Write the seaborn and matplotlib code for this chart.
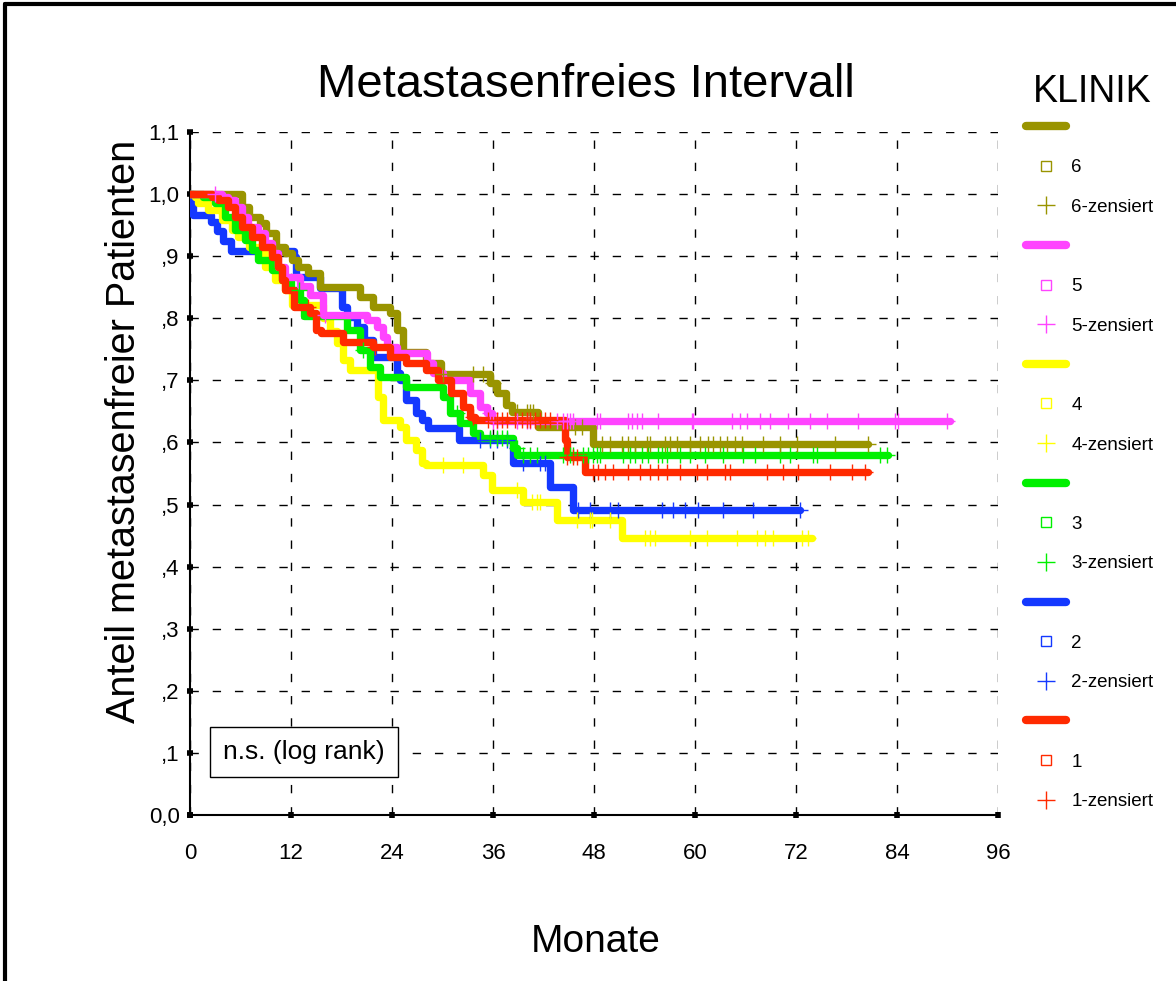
import numpy as np
import pandas as pd
import matplotlib
matplotlib.use("Agg")
import matplotlib.pyplot as plt
from matplotlib.lines import Line2D
import seaborn as sns

# --- Daten: Kaplan-Meier-Stufen je Klinik (Monate, Anteil) ---
t1 = [0, 2.6, 3.3, 4.5, 5.3, 6.2, 7.4, 8.6, 9.7, 10.5, 10.9, 11.3, 12.3, 14.3, 15.0, 15.6, 18.2,
      21.7, 23.8, 25.7, 28.0, 29.5, 31.0, 32.4, 33.3, 33.9, 44.5, 44.8, 46.9, 80.5]
s1 = [1.0, 0.995, 0.99, 0.979, 0.963, 0.947, 0.931, 0.915, 0.899, 0.882, 0.862, 0.845, 0.818, 0.808,
      0.781, 0.776, 0.762, 0.754, 0.738, 0.728, 0.717, 0.700, 0.680, 0.657, 0.641, 0.636, 0.604,
      0.576, 0.552, 0.552]

t2 = [0, 0.3, 2.5, 3.2, 3.9, 4.9, 12.3, 12.6, 15.5, 18.0, 18.7, 19.8, 20.7, 21.7, 24.6, 24.9,
      25.7, 26.9, 27.6, 28.3, 32.0, 38.4, 42.8, 45.5, 72.5]
s2 = [1.0, 0.966, 0.955, 0.940, 0.925, 0.908, 0.899, 0.866, 0.849, 0.818, 0.802, 0.786, 0.765,
      0.738, 0.712, 0.700, 0.668, 0.647, 0.636, 0.623, 0.604, 0.567, 0.528, 0.491, 0.491]

t3 = [0, 1.5, 3.0, 4.2, 5.3, 6.5, 7.4, 8.1, 9.7, 10.9, 12.0, 13.1, 13.5, 18.6, 20.2, 21.4, 22.6,
      25.7, 30.1, 30.9, 32.1, 33.6, 34.5, 38.4, 38.9, 82.9]
s3 = [1.0, 0.995, 0.985, 0.963, 0.942, 0.926, 0.910, 0.894, 0.878, 0.862, 0.845, 0.829, 0.803,
      0.781, 0.749, 0.721, 0.705, 0.689, 0.673, 0.647, 0.631, 0.615, 0.607, 0.591, 0.580, 0.580]

t4 = [0, 0.6, 1.0, 2.1, 3.8, 5.0, 5.7, 7.0, 8.9, 10.1, 11.3, 12.1, 15.8, 16.6, 17.5, 18.2, 19.0,
      22.3, 22.9, 24.9, 25.7, 26.9, 27.6, 28.0, 34.8, 35.9, 39.6, 43.6, 51.3, 73.9]
s4 = [1.0, 0.995, 0.985, 0.974, 0.958, 0.942, 0.931, 0.915, 0.882, 0.862, 0.845, 0.822, 0.800,
      0.780, 0.760, 0.733, 0.717, 0.673, 0.636, 0.625, 0.604, 0.588, 0.567, 0.564, 0.547, 0.523,
      0.504, 0.475, 0.446, 0.446]

t5 = [0, 3.8, 4.5, 5.3, 6.2, 6.9, 8.1, 8.9, 9.7, 10.5, 11.3, 13.1, 14.3, 15.8, 21.0, 22.2, 22.9,
      23.4, 24.6, 28.2, 28.9, 30.1, 33.3, 34.5, 35.3, 35.9, 90.3]
s5 = [1.0, 0.995, 0.99, 0.979, 0.963, 0.947, 0.937, 0.921, 0.905, 0.882, 0.866, 0.852, 0.838,
      0.805, 0.797, 0.786, 0.770, 0.754, 0.744, 0.728, 0.712, 0.700, 0.680, 0.657, 0.647, 0.634,
      0.634]

t6 = [0, 6.2, 7.0, 8.3, 9.0, 10.2, 11.3, 12.1, 12.8, 14.0, 15.5, 20.2, 21.7, 23.8, 24.6, 25.3,
      28.0, 29.8, 35.6, 36.5, 37.5, 38.2, 41.4, 47.9, 80.6]
s6 = [1.0, 0.979, 0.963, 0.953, 0.937, 0.915, 0.905, 0.894, 0.882, 0.873, 0.850, 0.834, 0.818,
      0.808, 0.781, 0.745, 0.728, 0.711, 0.695, 0.679, 0.660, 0.649, 0.625, 0.597, 0.597]

# --- Zensierte Beobachtungen (Monate) ---
c1 = [14.0, 22.0, 33.6, 35.4, 36.5, 37.1, 37.7, 38.6, 39.4, 40.0, 40.4, 41.0, 41.6, 42.2, 42.8,
      44.8, 45.5, 46.0, 47.9, 48.5, 49.3, 50.3, 52.0, 53.5, 54.7, 55.6, 56.7, 58.2, 60.2, 61.4,
      63.6, 64.2, 68.6, 70.5, 72.2, 76.0, 78.7, 80.2]
c2 = [34.5, 35.6, 36.5, 37.7, 39.6, 41.6, 42.2, 46.1, 47.5, 49.9, 50.9, 56.1, 57.4, 58.8, 60.4,
      63.3, 66.9, 72.5]
c3 = [13.0, 20.5, 31.7, 35.6, 36.5, 37.1, 37.7, 38.8, 39.6, 40.4, 41.2, 44.3, 45.1, 45.5, 46.7,
      47.3, 47.9, 48.4, 48.7, 51.4, 52.3, 52.9, 53.7, 54.4, 55.6, 56.1, 56.7, 58.2, 59.4, 61.2,
      63.3, 65.7, 67.1, 70.1, 71.3, 74.0, 74.5, 82.0, 82.8]
c4 = [30.1, 32.4, 38.8, 40.6, 41.2, 41.6, 46.0, 47.5, 47.8, 49.9, 54.1, 54.7, 55.2, 59.4, 61.4,
      65.0, 67.4, 68.3, 69.3, 72.7, 73.4]
c5 = [3.0, 16.0, 35.6, 36.0, 36.5, 38.8, 40.0, 40.4, 43.6, 44.3, 44.8, 45.1, 45.5, 48.4, 48.7,
      52.0, 52.5, 53.1, 53.7, 55.6, 59.6, 59.8, 64.4, 65.3, 66.2, 67.7, 68.9, 71.0, 73.7, 75.7,
      79.4, 83.8, 84.1, 89.9]
c6 = [30.1, 33.6, 34.8, 36.0, 38.8, 40.0, 40.4, 40.8, 45.7, 46.6, 49.0, 49.9, 51.3, 52.0, 52.9,
      54.3, 54.7, 56.4, 57.0, 57.9, 59.4, 60.6, 61.5, 62.1, 63.0, 63.8, 64.7, 65.6, 68.1, 70.1,
      72.1, 76.6, 80.6]

kliniken = ["1", "2", "3", "4", "5", "6"]
farben = {"1": "#ff2a00", "2": "#1438ff", "3": "#00f000", "4": "#ffff00",
          "5": "#ff44ff", "6": "#999400"}
stufen = {"1": (t1, s1), "2": (t2, s2), "3": (t3, s3), "4": (t4, s4), "5": (t5, s5), "6": (t6, s6)}
zensiert = {"1": c1, "2": c2, "3": c3, "4": c4, "5": c5, "6": c6}
zeichen_reihenfolge = ["2", "4", "3", "6", "5", "1"]

# --- Tabellen bauen ---
kurven = pd.concat([pd.DataFrame({"monat": stufen[k][0], "anteil": stufen[k][1], "klinik": k})
                    for k in zeichen_reihenfolge], ignore_index=True)
zeilen = []
for k in zeichen_reihenfolge:
    t_arr, s_arr = np.array(stufen[k][0]), np.array(stufen[k][1])
    for c in zensiert[k]:
        idx = np.searchsorted(t_arr, c, side="right") - 1
        zeilen.append({"monat": c, "anteil": s_arr[idx], "klinik": k})
marken = pd.DataFrame(zeilen)

# --- Zeichnen ---
sns.set_style("white")
plt.rcParams["font.family"] = ["Liberation Sans", "DejaVu Sans"]
plt.rcParams["text.color"] = "black"
plt.rcParams["axes.labelcolor"] = "black"
plt.rcParams["xtick.color"] = "black"
plt.rcParams["ytick.color"] = "black"

fig = plt.figure(figsize=(11.76, 9.81), dpi=100)
ax = fig.add_axes([190 / 1176, 1 - 815 / 981, 808 / 1176, 683 / 981])

sns.lineplot(data=kurven, x="monat", y="anteil", hue="klinik", palette=farben,
             hue_order=zeichen_reihenfolge, estimator=None, sort=False,
             drawstyle="steps-post", linewidth=5.3, legend=False, ax=ax, zorder=3)
for k in zeichen_reihenfolge:
    sub = marken[marken["klinik"] == k]
    ax.plot(sub["monat"], sub["anteil"], linestyle="none", marker="+",
            markersize=11, markeredgewidth=1.0, color=farben[k], zorder=4)

ax.set_xlim(0, 96)
ax.set_ylim(0, 1.1)
ax.set_xticks(np.arange(0, 97, 12))
ax.set_yticks(np.arange(0, 1.11, 0.1))
ax.set_yticklabels(["0,0", ",1", ",2", ",3", ",4", ",5", ",6", ",7", ",8", ",9", "1,0", "1,1"])
ax.tick_params(axis="both", labelsize=16, direction="inout", length=5, width=4,
               color="black", left=True, bottom=True)
ax.tick_params(axis="x", pad=18)
ax.tick_params(axis="y", pad=5)
ax.grid(True, color="black", linestyle=(0, (6, 10)), linewidth=1.0)
for side in ["top", "right"]:
    ax.spines[side].set_visible(False)
for side in ["left", "bottom"]:
    ax.spines[side].set_color("black")
    ax.spines[side].set_linewidth(1.5)
ax.set_xlabel("Monate", fontsize=28)
ax.xaxis.set_label_coords(0.502, -0.16)
ax.set_ylabel("Anteil metastasenfreier Patienten", fontsize=28.5, va="center")
ax.yaxis.set_label_coords(-0.082, 0.561)
ax.set_title("Metastasenfreies Intervall", fontsize=34, pad=25, x=0.49)

ax.text(0.041, 0.092, "n.s. (log rank)", transform=ax.transAxes, fontsize=19,
        va="center", ha="left",
        bbox=dict(boxstyle="square,pad=0.5", facecolor="white", edgecolor="black", linewidth=1))

# --- Legende ---
fig.text(1092 / 1176, 1 - 92 / 981, "KLINIK", fontsize=27, ha="center", va="center")
griffe, texte = [], []
for k in ["6", "5", "4", "3", "2", "1"]:
    griffe.append(Line2D([], [], color=farben[k], linewidth=6))
    texte.append(" ")
    griffe.append(Line2D([], [], color=farben[k], marker="s", markerfacecolor="none",
                         linestyle="none", markersize=7, markeredgewidth=1))
    texte.append(k)
    griffe.append(Line2D([], [], color=farben[k], marker="+", linestyle="none",
                         markersize=13, markeredgewidth=1))
    texte.append(f"{k}-zensiert")
fig.legend(griffe, texte, loc="upper left", bbox_to_anchor=(1018 / 1176, 1 - 112 / 981),
           frameon=False, fontsize=13.5, labelspacing=1.2, handlelength=2.15,
           handletextpad=0.3, borderaxespad=0)

# Rahmen um die Abbildung
fig.add_artist(Line2D([0.0045, 0.0045], [0, 0.996], transform=fig.transFigure,
                      color="black", linewidth=3))
fig.add_artist(Line2D([0.0045, 1], [0.996, 0.996], transform=fig.transFigure,
                      color="black", linewidth=3))

fig.savefig("out.png", dpi=100)
